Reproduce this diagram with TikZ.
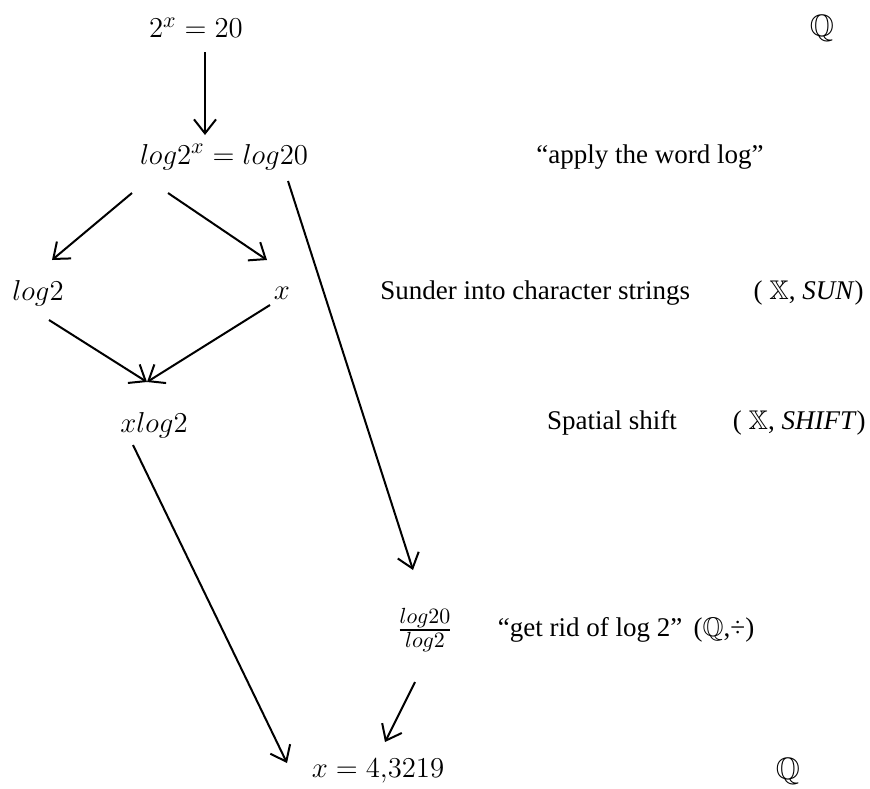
\documentclass[tikz,border=0pt]{standalone}
\usepackage{amssymb}
\usepackage[no-math]{fontspec}
\setmainfont{Liberation Serif}
\usetikzlibrary{arrows.meta}
\tikzset{
  arr/.style={draw, line width=1pt, -{Straight Barb[length=7pt,width=11pt,line width=1pt]}},
  mth/.style={inner sep=0pt, font=\fontsize{15.5}{18}\selectfont},
  lbl/.style={inner sep=0pt, font=\fontsize{13.5}{16}\selectfont},
}
\begin{document}
\begin{tikzpicture}[x=0.5pt,y=-0.5pt]
\useasboundingbox (0,0) rectangle (870,788);
% math nodes
\node[mth] (eq1) at (196,28) {$2^x = 20$};
\node[mth] (eq2) at (224,157) {$log2^x = log20$};
\node[mth] (lg2) at (38,293) {$log2$};
\node[mth] (xx) at (282,293) {$x$};
\node[mth] (xlg) at (154,425) {$xlog2$};
\node[mth] (frac) at (425,630) {$\frac{log20}{log2}$};
\node[mth] (res) at (378,771) {$x = 4{,}3219$};
\node[mth] (q1) at (822,28) {$\mathbb{Q}$};
\node[mth] (q2) at (788,771) {$\mathbb{Q}$};
% labels
\node[lbl] (l1) at (650,157) {“apply the word log”};
\node[lbl, anchor=west] (l2) at (380,293) {Sunder into character strings};
\node[lbl, anchor=east] (p2) at (864,293) {( $\mathbb{X}$, \textit{SUN})};
\node[lbl] (l3) at (612,423) {Spatial shift};
\node[lbl, anchor=east] (p3) at (866,423) {( $\mathbb{X}$, \textit{SHIFT})};
\node[lbl] (l4) at (590,630) {“get rid of log 2”};
\node[lbl] (p4) at (724,630) {($\mathbb{Q}$,÷)};
% connector ends
\coordinate (a1s) at (205,52);   \coordinate (a1e) at (205,135);
\coordinate (a2s) at (132,193);  \coordinate (a2e) at (52,260);
\coordinate (a3s) at (168,193);  \coordinate (a3e) at (267,260);
\coordinate (a4s) at (288,181);  \coordinate (a4e) at (413,570);
\coordinate (a5s) at (49,320);   \coordinate (a5e) at (147,382);
\coordinate (a6s) at (270,305);  \coordinate (a6e) at (147,382);
\coordinate (a7s) at (133,445);  \coordinate (a7e) at (287,763);
\coordinate (a8s) at (415,682);  \coordinate (a8e) at (385,742);
\draw[arr] (a1s) -- (a1e);
\draw[arr] (a2s) -- (a2e);
\draw[arr] (a3s) -- (a3e);
\draw[arr] (a4s) -- (a4e);
\draw[arr] (a5s) -- (a5e);
\draw[arr] (a6s) -- (a6e);
\draw[arr] (a7s) -- (a7e);
\draw[arr] (a8s) -- (a8e);
\end{tikzpicture}
\end{document}
